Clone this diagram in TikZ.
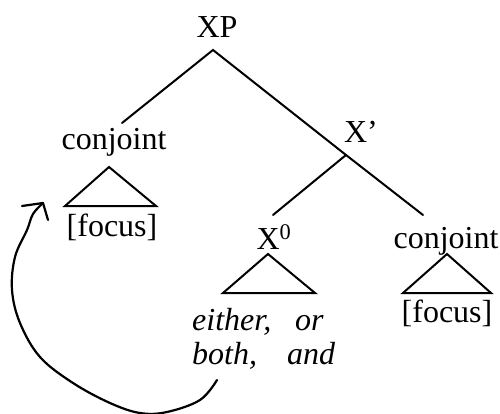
\documentclass[tikz,border=0pt]{standalone}
\usepackage{fontspec}
\setmainfont{Liberation Serif}
\begin{document}
\begin{tikzpicture}[x=1pt,y=-1pt,
  lbl/.style={inner sep=0pt,anchor=base,font=\fontsize{32}{36}\selectfont},
  ilbl/.style={inner sep=0pt,anchor=base west,font=\fontsize{32}{36}\selectfont\itshape},
  branch/.style={line width=2pt,line cap=round},
  tri/.style={line width=2pt,line join=miter},
  hand/.style={line width=2.2pt,line cap=round,line join=round}]
\useasboundingbox (0,0) rectangle (500,414);
% labels
\node[lbl] (xp) at (217,38) {XP};
\node[lbl] (cl) at (114,150) {conjoint};
\node[lbl] (fl) at (112,236) {[focus]};
\node[lbl] (xb) at (361,143) {X’};
\node[lbl] (x0) at (274,249) {X\textsuperscript{0}};
\node[lbl] (cr) at (446,248) {conjoint};
\node[lbl] (fr) at (447,322) {[focus]};
\node[ilbl] (e1) at (192,330) {either,};
\node[ilbl] (e2) at (295,330) {or};
\node[ilbl] (b1) at (192,364) {both,};
\node[ilbl] (b2) at (287,364) {and};
% tree junctions
\coordinate (xpb) at (213,50);
\coordinate (xbj) at (346,155);
\coordinate (clt) at (122,123);
\coordinate (x0t) at (273,215);
\coordinate (crt) at (423,215);
\draw[branch] (clt) -- (xpb) -- (xbj) -- (crt);
\draw[branch] (xbj) -- (x0t);
% triangles
\draw[tri] (65,206) -- (109,167) -- (156,206) -- cycle;
\draw[tri] (223,293) -- (268,254) -- (315,293) -- cycle;
\draw[tri] (403,293) -- (447,254) -- (491,293) -- cycle;
% movement arrow
\coordinate (ms) at (217,380);
\coordinate (mt) at (43,203);
\draw[hand] plot[smooth,tension=0.6] coordinates {(ms) (200,400) (167,412) (140,413) (110,403) (73,383) (40,357) (20,323) (12,290) (15,257) (27,230) (33,214) (mt)};
\draw[hand] (22,206) -- (mt) -- (48,220);
\end{tikzpicture}
\end{document}
